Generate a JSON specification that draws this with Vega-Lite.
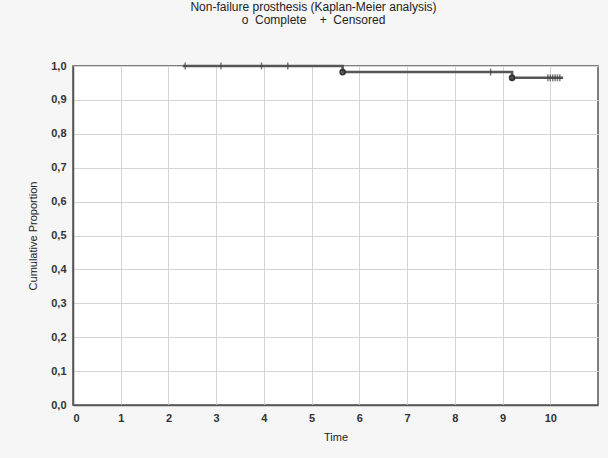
{
  "$schema": "https://vega.github.io/schema/vega-lite/v6.json",
  "width": 525,
  "height": 339,
  "autosize": {"type": "none"},
  "padding": {"left": 73, "top": 66, "right": 10, "bottom": 53},
  "background": "#f6f6f6",
  "title": {
    "text": "Non-failure prosthesis (Kaplan-Meier analysis)",
    "subtitle": "o\u00a0\u00a0Complete\u00a0\u00a0\u00a0\u00a0+\u00a0\u00a0Censored",
    "fontSize": 12,
    "subtitleFontSize": 12,
    "font": "Liberation Sans",
    "subtitleFont": "Liberation Sans",
    "fontWeight": "normal",
    "color": "#222",
    "subtitleColor": "#222",
    "anchor": "middle",
    "dx": -22,
    "offset": 33,
    "subtitlePadding": 1
  },
  "config": {
    "view": {"stroke": "#555", "strokeWidth": 1.5, "fill": "white"},
    "axis": {
      "labelFont": "Liberation Sans",
      "titleFont": "Liberation Sans",
      "labelFontSize": 11,
      "titleFontSize": 11,
      "labelColor": "#333",
      "titleColor": "#222",
      "titleFontWeight": "normal",
      "gridColor": "#d4d4d4",
      "gridWidth": 1,
      "domainColor": "#555",
      "domainWidth": 1.5,
      "ticks": false
    }
  },
  "data": {
    "values": [
      {"time": 2.3, "surv": 1.0, "type": "curve"},
      {"time": 5.65, "surv": 0.982, "type": "curve"},
      {"time": 9.2, "surv": 0.965, "type": "curve"},
      {"time": 10.27, "surv": 0.965, "type": "curve"},
      {"time": 5.65, "surv": 0.982, "type": "complete"},
      {"time": 9.2, "surv": 0.965, "type": "complete"},
      {"time": 2.35, "surv": 1.0, "type": "censored"},
      {"time": 3.1, "surv": 1.0, "type": "censored"},
      {"time": 3.95, "surv": 1.0, "type": "censored"},
      {"time": 4.5, "surv": 1.0, "type": "censored"},
      {"time": 8.75, "surv": 0.982, "type": "censored"},
      {"time": 9.95, "surv": 0.965, "type": "censored"},
      {"time": 10.0, "surv": 0.965, "type": "censored"},
      {"time": 10.05, "surv": 0.965, "type": "censored"},
      {"time": 10.1, "surv": 0.965, "type": "censored"},
      {"time": 10.15, "surv": 0.965, "type": "censored"},
      {"time": 10.2, "surv": 0.965, "type": "censored"}
    ]
  },
  "encoding": {
    "x": {
      "field": "time",
      "type": "quantitative",
      "scale": {"domain": [0, 11], "nice": false},
      "axis": {
        "title": "Time",
        "values": [0, 1, 2, 3, 4, 5, 6, 7, 8, 9, 10],
        "labelPadding": 7,
        "titlePadding": 8,
        "labelFontWeight": "bold"
      }
    },
    "y": {
      "field": "surv",
      "type": "quantitative",
      "scale": {"domain": [0, 1], "nice": false},
      "axis": {
        "title": "Cumulative Proportion",
        "values": [0, 0.1, 0.2, 0.3, 0.4, 0.5, 0.6, 0.7, 0.8, 0.9, 1.0],
        "labelExpr": "replace(format(datum.value, '.1f'), '.', ',')",
        "labelPadding": 7,
        "titlePadding": 12,
        "labelFontWeight": "bold"
      }
    }
  },
  "layer": [
    {
      "transform": [{"filter": "datum.type === 'curve'"}],
      "mark": {"type": "line", "interpolate": "step-after", "color": "#555", "strokeWidth": 2.5}
    },
    {
      "transform": [{"filter": "datum.type === 'censored'"}],
      "mark": {"type": "tick", "orient": "vertical", "color": "#444", "size": 7, "thickness": 1.5}
    },
    {
      "transform": [{"filter": "datum.type === 'complete'"}],
      "mark": {"type": "point", "filled": false, "shape": "circle", "color": "#333", "strokeWidth": 2, "size": 22, "opacity": 1}
    }
  ]
}
